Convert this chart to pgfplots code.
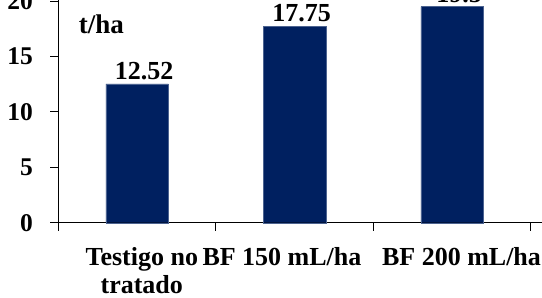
\documentclass[border=0pt]{standalone}
\usepackage{fontspec}
\setmainfont{Liberation Serif}
\usepackage{pgfplots}
\pgfplotsset{compat=1.18}
\definecolor{navy}{HTML}{002060}
\begin{document}
\begin{tikzpicture}
\begin{axis}[
  x=157.5pt, y=11.08pt,
  xmin=-0.5, xmax=2.571, ymin=0, ymax=20.1,
  enlargelimits=false,
  axis x line*=bottom, axis y line*=left,
  axis line style={line width=1pt, -},
  clip=false,
  /pgf/number format/assume math mode=true,
  ytick={0,5,10,15,20},
  yticklabel style={font=\fontsize{25.5}{27}\selectfont\bfseries, xshift=-14pt},
  xtick={-0.5,0.5,1.5,2.5},
  xticklabels={,,,},
  tick align=outside,
  major tick length=8pt,
  tick style={line width=1pt, black},
  extra x ticks={0.03,0.92,2.06},
  extra x tick labels={{\strut Testigo no\\tratado},{\strut BF 150 mL/ha},{\strut BF 200 mL/ha}},
  extra x tick style={major tick length=0pt,
    xticklabel style={align=center, anchor=north, yshift=-20pt,
      font=\fontsize{26}{28}\selectfont\bfseries}},
  nodes near coords,
  point meta=explicit symbolic,
  every node near coord/.append style={font=\fontsize{26}{27}\selectfont\bfseries, black, xshift=7pt, yshift=0.5pt},
]
\addplot[ybar, bar width=62.5pt, fill=navy, draw=navy!70!white, line width=0.4pt]
  coordinates {(0,12.52) [12.52] (1,17.75) [17.75] (2,19.5) [19.5]};
\node[anchor=base west, inner sep=0pt, font=\fontsize{27}{30}\selectfont\bfseries] at (axis cs:-0.371,17.12) {t/ha};
\coordinate (bl) at (axis cs:-0.8702,-6.706);
\coordinate (tr) at (axis cs:2.571,20.1);
\end{axis}
\pgfresetboundingbox
\useasboundingbox (bl) rectangle (tr);
\end{tikzpicture}
\end{document}
